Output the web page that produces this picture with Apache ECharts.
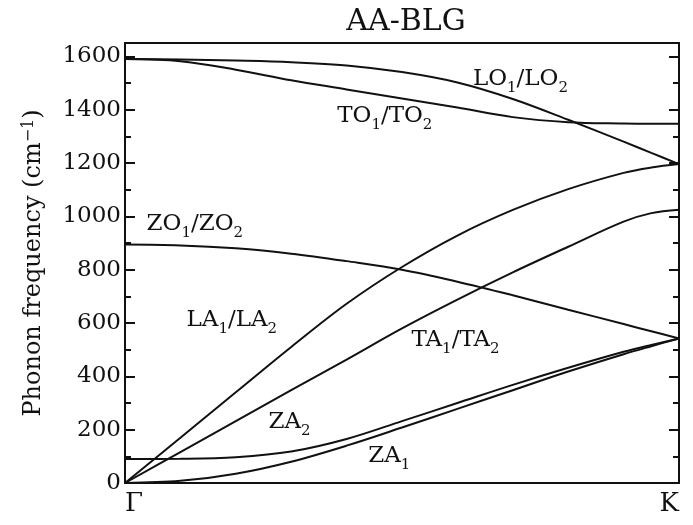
<!DOCTYPE html>
<html>
<head>
    <meta charset="utf-8">
    <script src="https://cdn.jsdelivr.net/npm/echarts@6/dist/echarts.min.js"></script>
</head>
<body style="margin:0">
    <div id="main" style="width: 693px;height:525px;"></div>
    <script type="text/javascript">
        // wave vector from Gamma (0) to K (1)
        var q = [0, 0.1, 0.2, 0.3, 0.4, 0.5, 0.6, 0.7, 0.8, 0.9, 0.95, 1];
        // phonon frequencies, cm^-1
        var LO  = [1590, 1588, 1584, 1578, 1566, 1541, 1502, 1440, 1362, 1280, 1238, 1196];
        var TO  = [1590, 1582, 1550, 1510, 1476, 1442, 1408, 1372, 1353, 1348, 1347, 1347];
        var ZO  = [894, 891, 880, 860, 832, 800, 755, 704, 650, 596, 569, 542];
        var LA  = [0, 170, 340, 510, 672, 810, 928, 1024, 1102, 1163, 1183, 1196];
        var TA  = [0, 116, 232, 348, 463, 580, 688, 790, 886, 980, 1012, 1025];
        var ZA2 = [90, 91, 97, 118, 165, 232, 300, 368, 432, 492, 518, 542];
        var ZA1 = [0, 8, 35, 80, 140, 208, 278, 348, 418, 483, 513, 542];

        var majorTicks = [0, 200, 400, 600, 800, 1000, 1200, 1400, 1600];
        var minorTicks = [100, 300, 500, 700, 900, 1100, 1300, 1500];

        // branch names and where they sit (q, freq)
        var branchLabels = ['{m|LO}{s|1}{m|/LO}{s|2}', '{m|TO}{s|1}{m|/TO}{s|2}', '{m|ZO}{s|1}{m|/ZO}{s|2}',
            '{m|LA}{s|1}{m|/LA}{s|2}', '{m|TA}{s|1}{m|/TA}{s|2}', '{m|ZA}{s|2}', '{m|ZA}{s|1}'];
        var labelQ = [0.628, 0.383, 0.039, 0.111, 0.517, 0.259, 0.439];
        var labelF = [1507, 1368, 962, 603, 528, 218, 91];

        var font = 'DejaVu Serif';
        var ink = '#111';

        var myChart = echarts.init(document.getElementById('main'));

        function branch(arr) {
            return {
                type: 'line',
                xAxisIndex: 0,
                yAxisIndex: 0,
                smooth: 0.35,
                showSymbol: false,
                symbol: 'none',
                lineStyle: { color: ink, width: 2 },
                data: q.map(function (x, i) { return [x, arr[i]]; })
            };
        }

        function yAx(pos, ticks, len, labels) {
            return {
                type: 'value', position: pos, min: 0, max: 1650, offset: 0,
                axisLine: { show: true, onZero: false, lineStyle: { color: ink, width: 2 } },
                axisTick: { show: true, inside: true, length: len, customValues: ticks,
                    lineStyle: { color: ink, width: 2 } },
                axisLabel: { show: labels, customValues: ticks, fontFamily: font, fontSize: 23,
                    color: ink, margin: 4, formatter: function (v) { return String(v); } },
                splitLine: { show: false }
            };
        }

        var labelData = branchLabels.map(function (t, i) {
            return { value: [labelQ[i], labelF[i]], name: t };
        });

        var option = {
            animation: false,
            backgroundColor: '#fff',
            title: {
                text: 'AA-BLG',
                left: 401,
                textAlign: 'center',
                top: 2,
                textStyle: { fontFamily: font, fontSize: 30, fontWeight: 'normal', color: ink }
            },
            grid: { left: 125, right: 14, top: 43, bottom: 42 },
            xAxis: [{
                type: 'value', min: 0, max: 1,
                axisLine: { show: true, onZero: false, lineStyle: { color: ink, width: 2 } },
                axisTick: { show: false },
                splitLine: { show: false },
                axisLabel: {
                    customValues: [0, 1],
                    alignMinLabel: 'left', alignMaxLabel: 'right',
                    formatter: function (v) { return v === 0 ? 'Γ' : 'K'; },
                    fontFamily: font, fontSize: 26, color: ink, margin: 8
                }
            }, {
                type: 'value', position: 'top', min: 0, max: 1,
                axisLine: { show: true, onZero: false, lineStyle: { color: ink, width: 2 } },
                axisTick: { show: false }, axisLabel: { show: false }, splitLine: { show: false }
            }],
            yAxis: [
                Object.assign(yAx('left', majorTicks, 10, true), {
                    name: 'Phonon frequency (cm{sup|−1})',
                    nameLocation: 'middle',
                    nameGap: 78,
                    nameRotate: 90,
                    nameTextStyle: {
                        fontFamily: font, fontSize: 24, color: ink,
                        rich: { sup: { fontFamily: font, fontSize: 16, color: ink, verticalAlign: 'top', padding: [0, 0, 10, 0] } }
                    }
                }),
                yAx('left', minorTicks, 6, false),
                yAx('right', majorTicks, 10, false),
                yAx('right', minorTicks, 6, false)
            ],
            series: [
                branch(LO), branch(TO), branch(ZO), branch(LA), branch(TA), branch(ZA2), branch(ZA1),
                {
                    type: 'scatter',
                    symbolSize: 0,
                    itemStyle: { opacity: 1 },
                    data: labelData,
                    label: {
                        show: true,
                        position: 'right',
                        distance: 0,
                        color: ink,
                        opacity: 1,
                        textBorderWidth: 0,
                        formatter: function (p) { return p.name; },
                        rich: {
                            m: { fontFamily: font, fontSize: 23, color: ink, verticalAlign: 'bottom', padding: [0, 0, 5, 0] },
                            s: { fontFamily: font, fontSize: 15, color: ink, verticalAlign: 'bottom' }
                        }
                    }
                }
            ]
        };

        myChart.setOption(option);
    </script>
</body>
</html>
